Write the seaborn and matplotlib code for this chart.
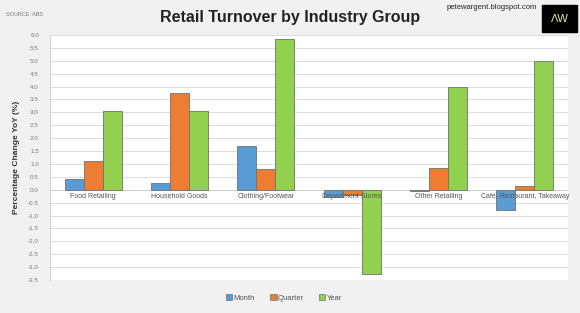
import matplotlib
matplotlib.use("Agg")
import matplotlib.pyplot as plt
import seaborn as sns
import pandas as pd
import numpy as np

categories = ["Food Retailing", "Household Goods", "Clothing/Footwear",
              "Department Stores", "Other Retailing", "Cafe, Restaurant, Takeaway"]
series = ["Month", "Quarter", "Year"]
month = [0.4, 0.25, 1.7, -0.3, -0.05, -0.8]
quarter = [1.1, 3.75, 0.8, -0.2, 0.85, 0.15]
year = [3.05, 3.05, 5.85, -3.25, 4.0, 5.0]
colors = ["#5b9bd5", "#ed7d31", "#92d050"]
yticks = np.arange(-3.5, 6.01, 0.5)

df = pd.DataFrame({
    "Category": categories * 3,
    "Series": sum([[s] * len(categories) for s in series], []),
    "Value": month + quarter + year,
})

sns.set_style("white")
plt.rcParams['font.family'] = ['Liberation Sans', 'DejaVu Sans']

fig = plt.figure(figsize=(5.8, 3.13), dpi=100)
fig.patch.set_facecolor("#f1f1f1")
ax = fig.add_axes([50/580, 1 - 280/313, 518/580, 245/313])
ax.set_facecolor("white")

sns.barplot(data=df, x="Category", y="Value", hue="Series", order=categories,
            hue_order=series, palette=colors, ax=ax, width=0.66, saturation=1,
            edgecolor="#707070", linewidth=0.6, legend=False, zorder=3)

ax.set_ylim(-3.5, 6.0)
ax.set_yticks(yticks)
ax.set_yticklabels([f"{t:.1f}" for t in yticks], fontsize=4.5, color="#777777")
ax.yaxis.grid(True, color="#dddddd", linewidth=0.7, zorder=0)
ax.tick_params(axis="y", length=0, pad=8)
ax.set_xticks([])
ax.set_xlabel("")
ax.set_ylabel("Percentage Change YoY (%)", fontsize=6, fontweight="bold", color="#333333", labelpad=6)
for s in ["top", "right"]:
    ax.spines[s].set_visible(False)
ax.spines["bottom"].set_visible(False)
ax.spines["left"].set_color("#cccccc")
ax.spines["left"].set_linewidth(0.6)
ax.axhline(0, color="#cccccc", linewidth=0.6, zorder=1)

for i, c in enumerate(categories):
    ax.text(i, -0.12, c, ha="center", va="top", fontsize=5, color="#555555", zorder=4)

fig.text(0.5, 0.945, "Retail Turnover by Industry Group", ha="center", va="center",
         fontsize=11.5, fontweight="bold", color="#222222", stretch="condensed")
fig.text(0.01, 0.955, "SOURCE: ABS", ha="left", va="center", fontsize=4, color="#777777")
fig.text(0.925, 0.975, "petewargent.blogspot.com", ha="right", va="center", fontsize=5.5, color="#222222")
fig.text(0.965, 0.94, "ΛW", ha="center", va="center", fontsize=8, color="#e8e0c0",
         bbox=dict(boxstyle="square,pad=0.75", facecolor="black", edgecolor="black"))

handles = [plt.Rectangle((0, 0), 1, 1, facecolor=c, edgecolor="#707070", linewidth=0.5) for c in colors]
fig.legend(handles, series, loc="center", bbox_to_anchor=(0.49, 0.048), ncol=3, frameon=False,
           fontsize=5.5, handlelength=0.8, handleheight=0.8, handletextpad=0.2, columnspacing=2.0,
           labelcolor="#555555")

fig.savefig("out.png", dpi=100, facecolor=fig.get_facecolor())
